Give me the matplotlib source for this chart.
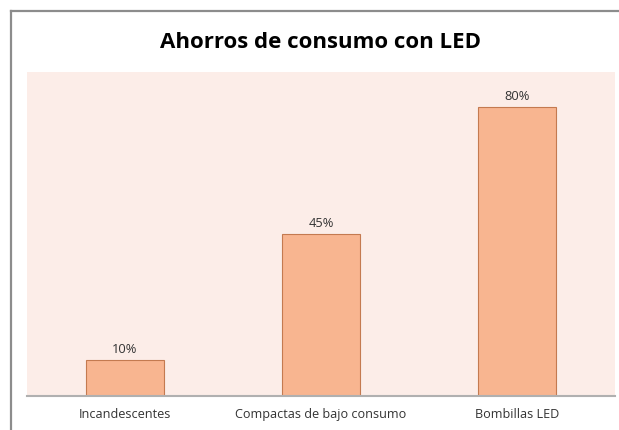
import matplotlib.pyplot as plt
from matplotlib.lines import Line2D

categories = ["Incandescentes", "Compactas de bajo consumo", "Bombillas LED"]
ahorro = [0.10, 0.45, 0.80]
etiquetas = ["10%", "45%", "80%"]

W, H = 619, 431
fig = plt.figure(figsize=(W / 100, H / 100), dpi=100)
fig.patch.set_facecolor("white")

# chart frame (only the left and top edges fall inside the image)
fig.add_artist(Line2D([11 / W, 11 / W], [0, 1 - 12 / H], color="#8c8c8c", lw=1.6))
fig.add_artist(Line2D([11 / W, 1], [1 - 12 / H, 1 - 12 / H], color="#8c8c8c", lw=1.6))

ax = fig.add_axes([27 / W, 34 / H, 588 / W, 324 / H])
ax.set_facecolor("#fcede8")

x = range(len(categories))
ax.bar(x, ahorro, width=0.4, color="#f8b590", edgecolor="#c47a50", linewidth=0.8, zorder=2)
for xi, v, t in zip(x, ahorro, etiquetas):
    ax.text(xi, v + 0.014, t, ha="center", va="bottom", fontsize=9.3,
            color="#333333", family="Open Sans")

ax.set_xlim(-0.5, 2.5)
ax.set_ylim(0, 0.898)
ax.set_yticks([])
ax.set_xticks(list(x))
ax.set_xticklabels(categories, fontsize=9.1, color="#333333", family="Open Sans")
ax.tick_params(axis="x", length=0, pad=8)
for s in ["top", "right", "left"]:
    ax.spines[s].set_visible(False)
ax.spines["bottom"].set_color("#b0b0b0")
ax.spines["bottom"].set_linewidth(1.5)

fig.text(320 / W, 1 - 43 / H, "Ahorros de consumo con LED", ha="center", va="center",
         fontsize=16, fontweight="bold", color="black", family="Open Sans")

fig.savefig("out.png", dpi=100)
